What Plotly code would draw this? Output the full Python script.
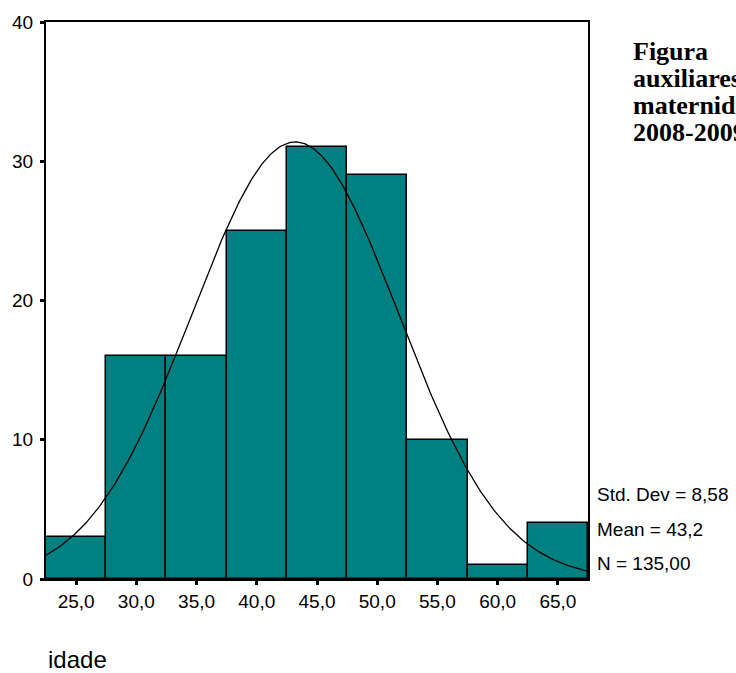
import numpy as np
import plotly.graph_objects as go

# Histogram of age ("idade"), bins of width 5 centred on the tick values
bin_centers = [25, 30, 35, 40, 45, 50, 55, 60, 65]
counts = [3, 16, 16, 25, 31, 29, 10, 1, 4]
x_tick_vals = [25, 30, 35, 40, 45, 50, 55, 60, 65]
x_tick_text = ["25,0", "30,0", "35,0", "40,0", "45,0", "50,0", "55,0", "60,0", "65,0"]
y_tick_vals = [0, 10, 20, 30, 40]

# Summary statistics shown beside the chart
std_dev = 8.58
mean = 43.2
n_total = 135
bin_width = 5

caption_lines = ["Figura", "auxiliares", "maternidade", "2008-2009"]

W, H = 736, 673
L, R, T, B = 46, 148, 20, 94

# Fitted normal curve, scaled to counts per bin
xs = np.linspace(22.5, 67.5, 300)
ys = n_total * bin_width * np.exp(-0.5 * ((xs - mean) / std_dev) ** 2) / (std_dev * np.sqrt(2 * np.pi))

fig = go.Figure()
fig.add_trace(go.Bar(
    x=bin_centers, y=counts, width=bin_width,
    marker=dict(color="#008080", line=dict(color="black", width=1.5)),
    hoverinfo="x+y",
))
fig.add_trace(go.Scatter(
    x=xs, y=ys, mode="lines",
    line=dict(color="black", width=1.3),
    hoverinfo="skip",
))


def fx(px):
    return (px - L) / (W - L - R)


def fy(py):
    return (H - B - py) / (H - T - B)


def comma(v, d):
    return f"{v:.{d}f}".replace(".", ",")


annotations = []
# statistics block
stats = [
    ("Std. Dev = " + comma(std_dev, 2), 494),
    ("Mean = " + comma(mean, 1), 529),
    ("N = " + comma(n_total, 2), 563),
]
for text, ypx in stats:
    annotations.append(dict(
        text=text, xref="paper", yref="paper",
        x=fx(595), y=fy(ypx),
        xanchor="left", yanchor="middle", showarrow=False,
        font=dict(family="Liberation Sans, Arial", size=19, color="black"),
    ))

# caption to the right of the chart
for i, text in enumerate(caption_lines):
    annotations.append(dict(
        text=f"<b>{text}</b>", xref="paper", yref="paper",
        x=fx(631), y=fy(50 + 27 * i),
        xanchor="left", yanchor="middle", showarrow=False,
        font=dict(family="Liberation Serif, Times New Roman", size=26, color="black"),
    ))

# axis title
annotations.append(dict(
    text="idade", xref="paper", yref="paper",
    x=fx(46), y=fy(660),
    xanchor="left", yanchor="middle", showarrow=False,
    font=dict(family="Liberation Sans, Arial", size=24, color="black"),
))

fig.update_layout(
    width=W, height=H,
    margin=dict(l=L, r=R, t=T, b=B),
    paper_bgcolor="white", plot_bgcolor="white",
    showlegend=False, bargap=0,
    font=dict(family="Liberation Sans, Arial", size=19, color="black"),
    annotations=annotations,
)
fig.update_xaxes(
    range=[22.5, 67.5], tickvals=x_tick_vals, ticktext=x_tick_text,
    showgrid=False, zeroline=False,
    showline=True, linecolor="black", linewidth=2, mirror=True,
    ticks="outside", ticklen=4, tickwidth=3, tickcolor="black",
)
fig.update_yaxes(
    range=[0, 40], tickvals=y_tick_vals,
    showgrid=False, zeroline=False,
    showline=True, linecolor="black", linewidth=2, mirror=True,
    ticks="outside", ticklen=4, tickwidth=3, tickcolor="black",
    ticklabelstandoff=3,
)

fig.write_html("out.html")
